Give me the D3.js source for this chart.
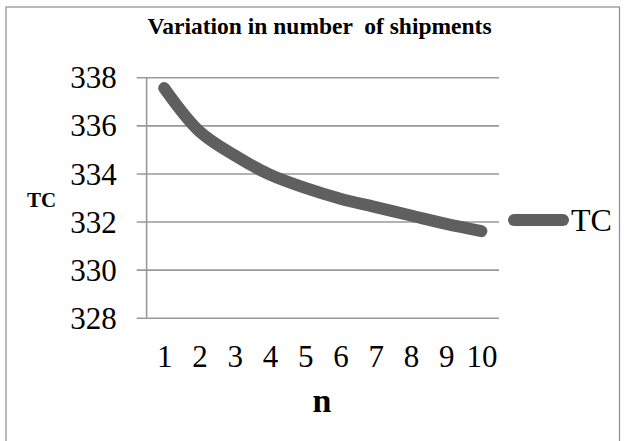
<!DOCTYPE html>
<html lang="en">
<head>
<meta charset="utf-8">
<title>Variation in number of shipments</title>
<script src="https://d3js.org/d3.v7.min.js"></script>
<style>
body { margin: 0; background: #ffffff; }
</style>
</head>
<body>
<div id="my_dataviz"></div>
<script>

// data
var nValues = [1, 2, 3, 4, 5, 6, 7, 8, 9, 10];
var tcValues = [337.55, 335.75, 334.75, 333.95, 333.4, 332.95, 332.6, 332.25, 331.9, 331.6];
var yTicks = [328, 330, 332, 334, 336, 338];
var seriesName = "TC";

var fontFam = "'Liberation Serif'";

// plot area (pixels)
var plotLeft = 146.6, plotRight = 499, plotTop = 77.3, plotBottom = 317.7;

var svg = d3.select("#my_dataviz")
  .append("svg")
    .attr("width", 625)
    .attr("height", 441);

// outer chart border
svg.append("rect")
  .attr("x", 6).attr("y", 7)
  .attr("width", 613.5).attr("height", 460)
  .attr("fill", "none")
  .attr("stroke", "#8c8c8c")
  .attr("stroke-width", 1.2);

// scales
var x = d3.scalePoint()
  .domain(nValues)
  .range([plotLeft, plotRight])
  .padding(0.5);

var y = d3.scaleLinear()
  .domain([328, 338])
  .range([plotBottom, plotTop]);

// Add Y axis + gridlines
var yAxis = svg.append("g")
  .attr("transform", "translate(136.7,0)")
  .call(d3.axisLeft(y).tickValues(yTicks).tickSize(-(plotRight - 136.7)).tickPadding(20).tickFormat(d3.format("d")));
yAxis.attr("font-family", null).attr("font-size", null);
yAxis.select(".domain").remove();
yAxis.selectAll(".tick line")
  .attr("stroke", "#999999")
  .attr("stroke-width", 1.6);
yAxis.selectAll(".tick text")
  .style("font-family", fontFam)
  .style("font-size", "31px")
  .attr("fill", "#000")
  .attr("dy", "0.34em");

// vertical axis line
svg.append("line")
  .attr("x1", plotLeft).attr("x2", plotLeft)
  .attr("y1", plotTop).attr("y2", plotBottom)
  .attr("stroke", "#999999")
  .attr("stroke-width", 1.6);

// Add X axis labels
var xAxis = svg.append("g")
  .attr("transform", "translate(0," + plotBottom + ")")
  .call(d3.axisBottom(x).tickSize(0).tickPadding(0));
xAxis.attr("font-family", null).attr("font-size", null);
xAxis.select(".domain").remove();
xAxis.selectAll(".tick text")
  .style("font-family", fontFam)
  .style("font-size", "31px")
  .attr("fill", "#000")
  .attr("y", 49.3)
  .attr("dy", null);

// the line
var line = d3.line()
  .x(function(d, i) { return x(nValues[i]); })
  .y(function(d) { return y(d); })
  .curve(d3.curveCatmullRom.alpha(0.5));

svg.append("path")
  .datum(tcValues)
  .attr("d", line)
  .attr("fill", "none")
  .attr("stroke", "#5f5f5f")
  .attr("stroke-width", 12)
  .attr("stroke-linecap", "round")
  .attr("stroke-linejoin", "round");

// title
svg.append("text")
  .attr("x", 319.5)
  .attr("y", 34)
  .attr("text-anchor", "middle")
  .style("font-family", fontFam)
  .style("font-size", "23.5px")
  .style("font-weight", "bold")
  .style("white-space", "pre")
  .text("Variation in number  of shipments");

// Y axis label
svg.append("text")
  .attr("x", 41.7)
  .attr("y", 206.5)
  .attr("text-anchor", "middle")
  .style("font-family", fontFam)
  .style("font-size", "21px")
  .style("font-weight", "bold")
  .text("TC");

// X axis label
svg.append("text")
  .attr("x", 322)
  .attr("y", 412)
  .attr("text-anchor", "middle")
  .style("font-family", fontFam)
  .style("font-size", "34px")
  .style("font-weight", "bold")
  .text("n");

// legend
svg.append("line")
  .attr("x1", 514).attr("x2", 563)
  .attr("y1", 220).attr("y2", 220)
  .attr("stroke", "#5f5f5f")
  .attr("stroke-width", 12)
  .attr("stroke-linecap", "round");
svg.append("text")
  .attr("x", 571)
  .attr("y", 231)
  .style("font-family", fontFam)
  .style("font-size", "32px")
  .text(seriesName);

</script>
</body>
</html>
